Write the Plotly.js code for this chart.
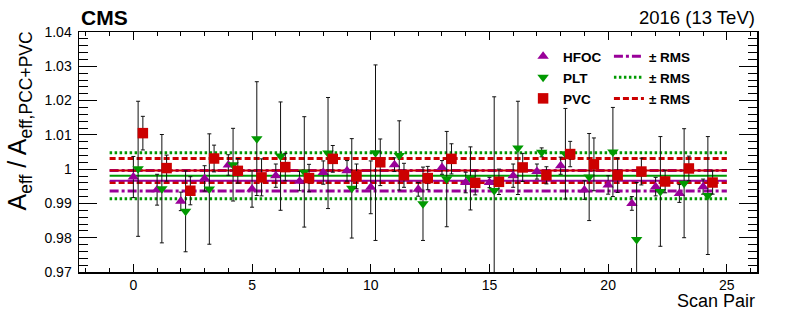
<!DOCTYPE html>
<html><head><meta charset="utf-8">
<script src="https://cdn.plot.ly/plotly-3.0.1.min.js"></script>
<style>html,body{margin:0;padding:0;background:#fff}#chart{width:789px;height:312px}</style>
</head><body><div id="chart"></div>
<script>
// ---- data ----
const scanPair = [0,1,2,3,4,5,6,7,8,9,10,11,12,13,14,15,16,17,18,19,20,21,22,23,24];

const hfocValues = [0.9977,0.9940,0.9906,0.9973,1.0012,0.9942,0.9981,0.9965,0.9990,0.9995,0.9947,1.0013,0.9941,1.0005,0.9961,0.9961,0.9981,0.9993,1.0010,0.9939,0.9954,0.9900,0.9949,0.9929,0.9949];
const hfocErrors = [0.0060,0.0045,0.0027,0.0037,0.0030,0.0053,0.0034,0.0028,0.0034,0.0030,0.0077,0.0020,0.0020,0.0020,0.0030,0.0015,0.0034,0.0022,0.0025,0.0027,0.0027,0.0020,0.0027,0.0026,0.0022];

const pltValues = [1.0001,0.9943,0.9877,0.9942,1.0013,1.0089,1.0038,0.9992,1.0047,0.9944,1.0048,1.0040,0.9899,0.9971,0.9973,0.9938,1.0062,1.0049,1.0045,0.9977,1.0050,0.9795,0.9935,0.9959,0.9923];
const pltErrors = [0.0197,0.0158,0.0118,0.0161,0.0106,0.0166,0.0158,0.0161,0.0162,0.0145,0.0256,0.0101,0.0107,0.0139,0.0092,0.0273,0.0136,0.0013,0.0132,0.0127,0.0130,0.0166,0.0160,0.0159,0.0172];

const pvcValues = [1.0105,1.0003,0.9937,1.0031,0.9995,0.9976,1.0006,0.9974,1.0030,0.9979,1.0020,0.9982,0.9974,1.0030,0.9960,0.9963,1.0005,0.9982,1.0044,1.0014,0.9982,0.9993,0.9964,1.0002,0.9961];
const pvcErrors = [0.0049,0.0038,0.0041,0.0039,0.0036,0.0054,0.0040,0.0040,0.0039,0.0036,0.0068,0.0035,0.0034,0.0044,0.0035,0.0037,0.0041,0.0025,0.0037,0.0077,0.0050,0.0039,0.0033,0.0036,0.0034];

const seriesNames = ['HFOC','PLT','PVC'];
const meanValues = [0.99659, 0.99805, 0.9996];
const rmsValues = [0.0030, 0.0067, 0.0035];
const bandRange = [-1, 25];
const rmsLabel = '\u00b1 RMS';

// ---- styling ----
const FONT = 'Liberation Sans, Arial, Helvetica, sans-serif';
const colors = ['#990099', '#009900', '#cc0000'];
const symbols = ['triangle-up', 'triangle-down', 'square'];
const markerSizes = [10, 10, 10.5];
const xOffsets = [0, 0.2, 0.4];
const rmsDash = ['9px,3px,3px,3px', '2.5px,2.5px', '6px,3px'];
const values = [hfocValues, pltValues, pvcValues];
const errors = [hfocErrors, pltErrors, pvcErrors];

const traces = [];
// RMS bands
for (let i = 0; i < 3; i++) {
  const up = meanValues[i] + rmsValues[i], lo = meanValues[i] - rmsValues[i];
  traces.push({
    x: [bandRange[0], bandRange[1], null, bandRange[0], bandRange[1]],
    y: [up, up, null, lo, lo],
    mode: 'lines', name: rmsLabel, legend: 'legend2', legendgroup: 'rms' + i,
    line: {color: colors[i], width: 3, dash: rmsDash[i]}, hoverinfo: 'skip'
  });
}
// mean lines
for (let i = 0; i < 3; i++) {
  traces.push({
    x: bandRange, y: [meanValues[i], meanValues[i]],
    mode: 'lines', showlegend: false,
    line: {color: colors[i], width: 2}, hoverinfo: 'skip'
  });
}
// points
for (let i = 0; i < 3; i++) {
  traces.push({
    x: scanPair.map(p => p + xOffsets[i]), y: values[i],
    mode: 'markers', name: seriesNames[i], legend: 'legend', legendgroup: 'pts' + i,
    marker: {symbol: symbols[i], size: markerSizes[i], color: colors[i], line: {width: 0}},
    error_y: {type: 'data', array: errors[i], visible: true, color: '#111', thickness: 1, width: 2}
  });
}

const legendCommon = {
  xanchor: 'left', yanchor: 'top', bgcolor: 'rgba(0,0,0,0)', borderwidth: 0,
  font: {family: FONT, size: 13.5, color: '#000', weight: 700},
  traceorder: 'grouped', tracegroupgap: 0.5, itemwidth: 30
};

const layout = {
  width: 789, height: 312,
  margin: {l: 79, r: 32, t: 32, b: 40},
  paper_bgcolor: '#fff', plot_bgcolor: '#fff',
  showlegend: true,
  legend: Object.assign({x: 0.655, y: 0.9625}, legendCommon),
  legend2: Object.assign({x: 0.7816, y: 0.9625}, legendCommon),
  xaxis: {
    range: [-2.29, 26.27], tick0: 0, dtick: 5,
    ticks: 'inside', ticklen: 8, tickwidth: 1, tickcolor: '#000',
    showline: true, linecolor: '#000', linewidth: 1.5, mirror: 'allticks',
    zeroline: false, showgrid: false,
    minor: {dtick: 1, ticks: 'inside', ticklen: 4, tickcolor: '#000', showgrid: false},
    tickfont: {family: FONT, size: 14, color: '#000'}
  },
  yaxis: {
    range: [0.97, 1.04], tick0: 0, dtick: 0.01,
    ticks: 'inside', ticklen: 18, tickwidth: 1, tickcolor: '#000',
    showline: true, linecolor: '#000', linewidth: 1.5, mirror: 'allticks',
    zeroline: false, showgrid: false, ticklabelstandoff: 3,
    minor: {dtick: 0.002, ticks: 'inside', ticklen: 9, tickcolor: '#000', showgrid: false},
    tickfont: {family: FONT, size: 14, color: '#000'}
  },
  annotations: [
    {text: '<b>CMS</b>', xref: 'paper', yref: 'paper', x: 0, y: 1.0604, xanchor: 'left', yanchor: 'middle',
     showarrow: false, font: {family: FONT, size: 21, color: '#000'}},
    {text: '2016 (13 TeV)', xref: 'paper', yref: 'paper', x: 1, y: 1.0604, xanchor: 'right', yanchor: 'middle',
     showarrow: false, font: {family: FONT, size: 18.5, color: '#000'}},
    {text: 'Scan Pair', xref: 'paper', yref: 'paper', x: 1, y: -0.1229, xanchor: 'right', yanchor: 'middle',
     showarrow: false, font: {family: FONT, size: 18, color: '#000'}},
    {text: 'A<sub>eff</sub> / A<sub>eff,PCC+PVC</sub>', xref: 'paper', yref: 'paper', x: -0.0885, y: 1.0125,
     xanchor: 'center', yanchor: 'top', textangle: -90,
     showarrow: false, font: {family: FONT, size: 25, color: '#000'}}
  ]
};

Plotly.newPlot('chart', traces, layout, {displayModeBar: false, staticPlot: true});
</script>
</body></html>
